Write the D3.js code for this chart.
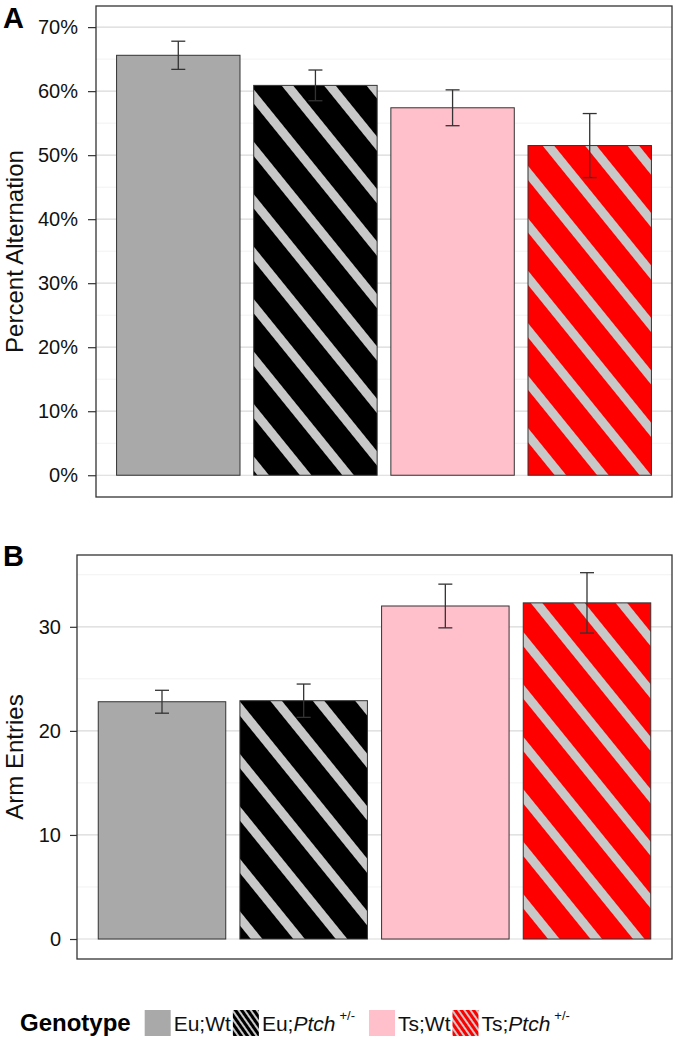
<!DOCTYPE html>
<html><head><meta charset="utf-8">
<script src="https://cdn.jsdelivr.net/npm/d3@7"></script>
<style>body{margin:0;background:#fff}svg{display:block}text{font-family:"Liberation Sans",Arial,sans-serif}</style>
</head><body>
<script>
// ---- data ----
const genotypes = ["Eu;Wt", "Eu;Ptch", "Ts;Wt", "Ts;Ptch"];
const fills = ["#a9a9a9", "#000000", "#ffc0cb", "#ff0000"];
const striped = [false, true, false, true];
const altMean = [65.6, 60.9, 57.4, 51.5];
const altSE = [2.2, 2.4, 2.8, 5.0];
const entriesMean = [22.8, 22.9, 32.0, 32.3];
const entriesSE = [1.1, 1.6, 2.1, 2.9];
const altTicks = [0, 10, 20, 30, 40, 50, 60, 70];
const entriesTicks = [0, 10, 20, 30];

const W = 682, H = 1050;
const svg = d3.select("body").append("svg").attr("width", W).attr("height", H);
const defs = svg.append("defs");

function stripePattern(id, bg, spacing, sw, angle) {
  const p = defs.append("pattern").attr("id", id).attr("patternUnits", "userSpaceOnUse")
    .attr("width", spacing).attr("height", spacing).attr("patternTransform", `rotate(${angle})`);
  p.append("rect").attr("width", spacing).attr("height", spacing).attr("fill", bg);
  p.append("rect").attr("x", 0).attr("width", sw).attr("height", spacing).attr("fill", "#c8c8c8");
}
stripePattern("pBlack", "#000", 33, 9, -39);
stripePattern("pRed", "#ff0000", 33, 9, -39);
stripePattern("lBlack", "#000", 5, 2, -35);
stripePattern("lRed", "#ff0000", 5, 2, -35);

function fillFor(i, legend) {
  if (!striped[i]) return fills[i];
  const base = i === 1 ? "Black" : "Red";
  return `url(#${legend ? "l" : "p"}${base})`;
}

function panel(o) {
  const g = svg.append("g");
  const x = d3.scaleBand().domain(genotypes).range([o.left, o.right]).paddingInner(0.1).paddingOuter(0.15);
  const y = d3.scaleLinear().domain(o.domain).range([o.bottom, o.top]);
  const minor = o.ticks.map(t => t + o.step / 2).filter(t => y(t) > o.top);
  g.selectAll(".minor").data(minor).join("line")
    .attr("x1", o.left).attr("x2", o.right).attr("y1", d => y(d)).attr("y2", d => y(d))
    .attr("stroke", "#f2f2f2").attr("stroke-width", 1);
  g.selectAll(".major").data(o.ticks).join("line")
    .attr("x1", o.left).attr("x2", o.right).attr("y1", d => y(d)).attr("y2", d => y(d))
    .attr("stroke", "#d9d9d9").attr("stroke-width", 1.2);
  g.selectAll(".bar").data(o.mean).join("rect")
    .attr("x", (d, i) => x(genotypes[i])).attr("width", x.bandwidth())
    .attr("y", d => y(d)).attr("height", d => y(0) - y(d))
    .attr("fill", (d, i) => fillFor(i, false))
    .attr("stroke", "#333").attr("stroke-width", 1);
  const eb = g.selectAll(".eb").data(o.mean).join("g").attr("stroke", "#333").attr("stroke-width", 1.3);
  const cx = i => x(genotypes[i]) + x.bandwidth() / 2;
  eb.append("line").attr("x1", (d, i) => cx(i)).attr("x2", (d, i) => cx(i))
    .attr("y1", (d, i) => y(d - o.se[i])).attr("y2", (d, i) => y(d + o.se[i]));
  eb.append("line").attr("x1", (d, i) => cx(i) - 7).attr("x2", (d, i) => cx(i) + 7)
    .attr("y1", (d, i) => y(d + o.se[i])).attr("y2", (d, i) => y(d + o.se[i]));
  eb.append("line").attr("x1", (d, i) => cx(i) - 7).attr("x2", (d, i) => cx(i) + 7)
    .attr("y1", (d, i) => y(d - o.se[i])).attr("y2", (d, i) => y(d - o.se[i]));
  g.append("rect").attr("x", o.left).attr("y", o.top).attr("width", o.right - o.left)
    .attr("height", o.bottom - o.top).attr("fill", "none").attr("stroke", "#333").attr("stroke-width", 1.3);
  const ax = g.append("g").attr("transform", `translate(${o.left},0)`)
    .call(d3.axisLeft(y).tickValues(o.ticks).tickFormat(o.fmt).tickSize(o.tickSize).tickPadding(o.pad));
  ax.select(".domain").remove();
  ax.selectAll(".tick line").attr("stroke", "#333").attr("stroke-width", 1.2);
  ax.selectAll(".tick text").attr("font-size", 20).attr("fill", "#111")
    .style("font-family", '"Liberation Sans",Arial,sans-serif');
  g.append("text").attr("transform", `translate(${o.titleX},${(o.top + o.bottom) / 2}) rotate(-90)`)
    .attr("text-anchor", "middle").attr("font-size", 24).attr("fill", "#111").text(o.title);
  g.append("text").attr("x", 3).attr("y", o.letterY).attr("font-size", 29).attr("font-weight", "bold")
    .attr("fill", "#000").text(o.letter);
}

panel({ left: 96, right: 672, top: 6, bottom: 497, domain: [-3.4, 73.3], ticks: altTicks, step: 10,
  fmt: d => d + "%", mean: altMean, se: altSE, title: "Percent Alternation", titleX: 23, letter: "A", letterY: 28,
  tickSize: 8, pad: 10 });
panel({ left: 77, right: 672, top: 555, bottom: 959, domain: [-1.92, 36.9], ticks: entriesTicks, step: 10,
  fmt: d => d, mean: entriesMean, se: entriesSE, title: "Arm Entries", titleX: 23, letter: "B", letterY: 566,
  tickSize: 7, pad: 9 });

// legend
const lg = svg.append("g");
const ly = 1023, ks = 26;
let cxp = 20;
const gt = lg.append("text").attr("x", cxp).attr("y", ly + 8).attr("font-size", 24).attr("font-weight", "bold").text("Genotype");
cxp += gt.node().getComputedTextLength() + 14;
const labels = [["Eu;Wt", null], ["Eu;", "Ptch"], ["Ts;Wt", null], ["Ts;", "Ptch"]];
labels.forEach((lab, i) => {
  lg.append("rect").attr("x", cxp).attr("y", ly - ks / 2).attr("width", ks).attr("height", ks)
    .attr("fill", fillFor(i, true));
  cxp += ks + 3;
  const t = lg.append("text").attr("x", cxp).attr("y", ly + 8).attr("font-size", 21).attr("fill", "#111");
  t.append("tspan").text(lab[0]);
  if (lab[1]) {
    t.append("tspan").attr("font-style", "italic").text(lab[1]);
    t.append("tspan").attr("font-size", 13).attr("dx", 4).attr("dy", -11).text("+/-");
  }
  cxp += t.node().getComputedTextLength() + (lab[1] ? 18 : 2);
});
</script>
</body></html>
